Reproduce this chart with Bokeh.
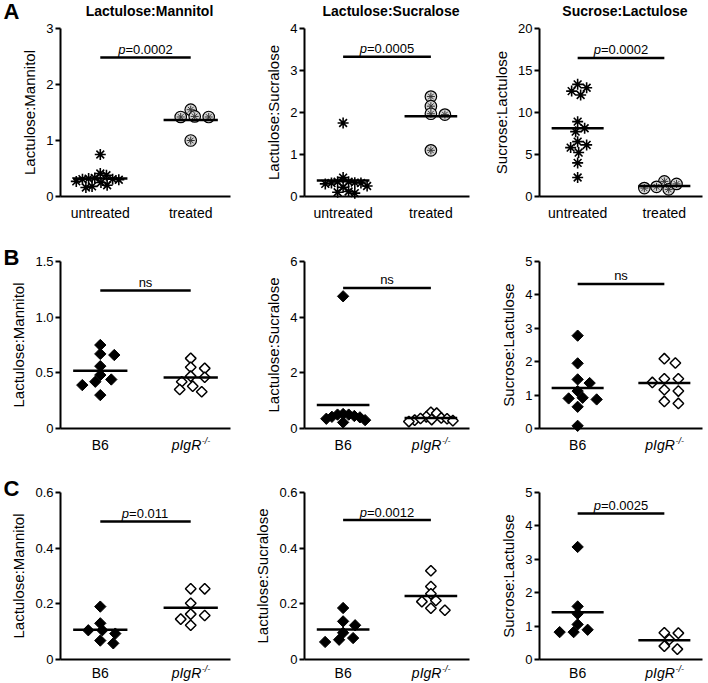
import numpy as np
from bokeh.plotting import figure
from bokeh.layouts import gridplot
from bokeh.models import Range1d, FixedTicker, Label, LinearAxis
from bokeh.embed import file_html
from bokeh.resources import INLINE

FONT = "Liberation Sans"

# ---------------- data ----------------
A_GROUPS = ["untreated", "treated"]
BC_GROUPS = ["B6", "pIgR"]

a_lm_untreated = [0.32, 0.31, 0.38, 0.27, 0.20, 0.16, 0.75, 0.18, 0.25, 0.41, 0.33, 0.30, 0.31]
a_lm_treated = [1.55, 1.42, 1.42, 1.43, 1.00]
a_ls_untreated = [1.75, 0.45, 0.33, 0.32, 0.35, 0.30, 0.32, 0.25, 0.22, 0.12, 0.10, 0.08, 0.35]
a_ls_treated = [2.38, 2.15, 1.97, 1.95, 1.10]
a_sl_untreated = [13.35, 12.55, 12.08, 12.95, 8.91, 7.72, 8.12, 6.53, 5.82, 5.23, 4.00, 6.14, 2.26]
a_sl_treated = [1.80, 1.15, 0.85, 1.00, 1.50]

b_lm_b6 = [0.75, 0.66, 0.67, 0.56, 0.48, 0.42, 0.44, 0.39, 0.30]
b_lm_pigr = [0.63, 0.54, 0.55, 0.47, 0.46, 0.42, 0.38, 0.35, 0.33]
b_ls_b6 = [4.75, 0.52, 0.50, 0.45, 0.42, 0.35, 0.30, 0.22, 0.40, 0.50]
b_ls_pigr = [0.58, 0.55, 0.42, 0.38, 0.35, 0.30, 0.28, 0.32, 0.36, 0.25]
b_sl_b6 = [2.78, 1.95, 1.47, 1.36, 1.12, 0.92, 0.87, 0.90, 0.65, 0.08]
b_sl_pigr = [2.09, 1.96, 1.49, 1.49, 1.38, 1.12, 1.16, 0.75, 0.81]

c_lm_b6 = [0.19, 0.13, 0.105, 0.093, 0.105, 0.058, 0.068]
c_lm_pigr = [0.254, 0.254, 0.202, 0.158, 0.163, 0.145, 0.123]
c_ls_b6 = [0.185, 0.137, 0.123, 0.096, 0.077, 0.071, 0.063]
c_ls_pigr = [0.319, 0.262, 0.236, 0.208, 0.212, 0.177, 0.184]
c_sl_b6 = [3.37, 1.59, 1.37, 1.05, 0.89, 0.82, 0.82]
c_sl_pigr = [0.80, 0.60, 0.31, 0.40, 0.79]

titles = ["Lactulose:Mannitol", "Lactulose:Sucralose", "Sucrose:Lactulose"]
y_labels = ["Lactulose:Mannitol", "Lactulose:Sucralose", "Sucrose:Lactulose"]

y_ticks = [
    [[0, 1, 2, 3], [0, 1, 2, 3, 4], [0, 5, 10, 15, 20]],
    [[0, 0.5, 1.0, 1.5], [0, 2, 4, 6], [0, 1, 2, 3, 4, 5]],
    [[0, 0.2, 0.4, 0.6], [0, 0.2, 0.4, 0.6], [0, 1, 2, 3, 4, 5]],
]
y_tick_text = [
    [["0", "1", "2", "3"], ["0", "1", "2", "3", "4"], ["0", "5", "10", "15", "20"]],
    [["0", "0.5", "1.0", "1.5"], ["0", "2", "4", "6"], ["0", "1", "2", "3", "4", "5"]],
    [["0", "0.2", "0.4", "0.6"], ["0", "0.2", "0.4", "0.6"], ["0", "1", "2", "3", "4", "5"]],
]
values = [
    [(a_lm_untreated, a_lm_treated), (a_ls_untreated, a_ls_treated), (a_sl_untreated, a_sl_treated)],
    [(b_lm_b6, b_lm_pigr), (b_ls_b6, b_ls_pigr), (b_sl_b6, b_sl_pigr)],
    [(c_lm_b6, c_lm_pigr), (c_ls_b6, c_ls_pigr), (c_sl_b6, c_sl_pigr)],
]
sig_y = [[2.48, 3.33, 16.5], [1.24, 5.05, 4.33], [0.496, 0.501, 4.37]]
sig_p = [["0.0002", "0.0005", "0.0002"], [None, None, None], ["0.011", "0.0012", "0.0025"]]
letters = ["A", "B", "C"]

# ---------------- layout / style ----------------
XMIN, XMAX = 0.56, 2.44
# (cell width, y-axis x, x-axis end x) in cell pixels
COLS = [(236, 60, 230), (236, 68, 233), (234, 67, 230)]
# (cell height, frame top y, x-axis y, group-label offset) in cell pixels
ROWS = [(231, 28, 196, -16), (230, 30, 197, -16), (221, 31, 198, -13)]

AW = {'0': .556, '1': .556, '2': .556, '3': .556, '4': .556, '5': .556, '6': .556,
      '7': .556, '8': .556, '9': .556, '.': .278, '=': .584, 'p': .556, 'I': .278,
      'g': .556, 'R': .722, '-': .333, '/': .278}


def tw(s, size):
    return sum(AW.get(ch, .556) for ch in s) * size


def swarm(vals, ppx, ppy, d=6.5, k=1.0, cap=22.0, step=1.0):
    """Place points side by side when they would overlap (pixel space),
    then limit the total spread to +/- cap pixels."""
    vals = np.asarray(vals, dtype=float)
    order = np.argsort(-vals)
    placed = []
    offs = np.zeros(len(vals))
    cands = [0.0]
    for j in range(1, 120):
        cands += [j * step, -j * step]
    for i in order:
        yv = vals[i] * ppy
        for cnd in cands:
            if all((px - cnd) ** 2 + (k * (py - yv)) ** 2 >= d * d for (px, py) in placed):
                offs[i] = cnd
                placed.append((cnd, yv))
                break
    span = np.max(np.abs(offs)) if len(offs) else 0
    if span > cap:
        offs = offs * cap / span
    return offs / ppx


def lab(p, text, x, y, xo=0, yo=0, size="13px", style="normal", align="center", base="alphabetic"):
    p.add_layout(Label(x=x, y=y, x_offset=xo, y_offset=yo, text=text, text_font=FONT,
                       text_font_size=size, text_font_style=style, text_align=align,
                       text_baseline=base, text_color="black"))


def make_panel(r, c):
    W, xa, xe = COLS[c]
    H, yt, yb, glo = ROWS[r]
    ytop = y_ticks[r][c][-1]
    ppx = (xe - xa) / (XMAX - XMIN)
    ppy = (yb - yt) / ytop
    x0 = XMIN - xa / ppx
    x1 = XMIN + (W - xa) / ppx
    y0 = -(H - yb) / ppy
    y1 = ytop + yt / ppy
    p = figure(width=W, height=H, min_border=0,
               x_range=Range1d(x0, x1), y_range=Range1d(y0, y1),
               x_axis_type=None, y_axis_type=None,
               output_backend="svg", toolbar_location=None, tools="")
    p.outline_line_color = None
    p.background_fill_color = "white"
    p.border_fill_color = "white"

    xaxis = LinearAxis(fixed_location=0, bounds=(XMIN, XMAX), ticker=FixedTicker(ticks=[]),
                       axis_line_width=2, axis_line_color="black",
                       major_tick_line_color=None, minor_tick_line_color=None)
    p.add_layout(xaxis, "below")

    yaxis = LinearAxis(fixed_location=XMIN, bounds=(0, ytop),
                       ticker=FixedTicker(ticks=y_ticks[r][c]),
                       major_label_overrides={t: s for t, s in zip(y_ticks[r][c], y_tick_text[r][c])},
                       axis_line_width=2, axis_line_color="black",
                       major_tick_line_width=2, major_tick_line_color="black",
                       major_tick_out=5, major_tick_in=0, minor_tick_line_color=None,
                       major_label_text_font=FONT, major_label_text_font_size="13px",
                       major_label_text_color="black", major_label_standoff=2,
                       axis_label=y_labels[c], axis_label_text_font=FONT,
                       axis_label_text_font_size="15px", axis_label_text_font_style="normal",
                       axis_label_text_color="black", axis_label_standoff=5)
    p.add_layout(yaxis, "left")

    g1, g2 = values[r][c]
    for gi, vals in enumerate((g1, g2)):
        gx = gi + 1
        ys = np.asarray(vals, dtype=float)
        if r == 0 and gi == 0:
            xs = gx + swarm(vals, ppx, ppy, d=9, k=1.0, cap=24)
            p.scatter(xs, ys, marker="asterisk", size=11, line_color="black", line_width=1.6)
        elif r == 0:
            xs = gx + swarm(vals, ppx, ppy, d=14, k=2.0, cap=20)
            p.scatter(xs, ys, marker="circle", size=11.5, fill_color="#d4d4d4",
                      line_color="black", line_width=1.2)
            p.scatter(xs, ys, marker="asterisk", size=8, line_color="#333333", line_width=1.0)
        elif gi == 0:
            xs = gx + swarm(vals, ppx, ppy, d=14, k=2.0, cap=22)
            p.scatter(xs, ys, marker="square", angle=np.pi / 4, size=8,
                      fill_color="black", line_color="black", line_width=1)
        else:
            xs = gx + swarm(vals, ppx, ppy, d=14, k=2.0, cap=22)
            p.scatter(xs, ys, marker="square", angle=np.pi / 4, size=7.5,
                      fill_color="white", line_color="black", line_width=1.5)
        m = float(np.mean(ys))
        p.segment(x0=[gx - 0.3], y0=[m], x1=[gx + 0.3], y1=[m], line_color="black", line_width=2.5)

    # significance bar and text
    sy = sig_y[r][c]
    p.segment(x0=[1.0], y0=[sy], x1=[2.0], y1=[sy], line_color="black", line_width=2.5)
    if sig_p[r][c] is None:
        lab(p, "ns", 1.5, sy, yo=8)
    else:
        num = "=" + sig_p[r][c]
        total = tw("p" + num, 13)
        left = -total / 2
        lab(p, "p", 1.5, sy, xo=left, yo=8, style="italic", align="left")
        lab(p, num, 1.5, sy, xo=left + tw("p", 13), yo=8, align="left")

    # group labels under the x axis
    if r == 0:
        for gi, name in enumerate(A_GROUPS):
            lab(p, name, gi + 1, 0, yo=glo, size="14px", base="middle")
    else:
        lab(p, BC_GROUPS[0], 1, 0, yo=glo, size="14px", base="middle")
        main, sup = BC_GROUPS[1], "-/-"
        wm, ws = tw(main, 14), tw(sup, 9)
        left = -(wm + ws) / 2
        lab(p, main, 2, 0, xo=left, yo=glo, size="14px", style="italic", align="left", base="middle")
        lab(p, sup, 2, 0, xo=left + wm + 0.5, yo=glo + 4, size="9px", style="italic",
            align="left", base="middle")

    if r == 0:
        lab(p, titles[c], 1.5, ytop, xo=4, yo=18, size="14px", style="bold", base="middle")
    if c == 0:
        yoff = 17 if r == 0 else 4
        lab(p, letters[r], XMIN, ytop, xo=3 - xa, yo=yoff, size="22px", style="bold",
            align="left", base="middle")
    return p


rows = [[make_panel(r, c) for c in range(3)] for r in range(3)]
grid = gridplot(rows, toolbar_location=None)
open("out.html", "w").write(file_html(grid, INLINE))
